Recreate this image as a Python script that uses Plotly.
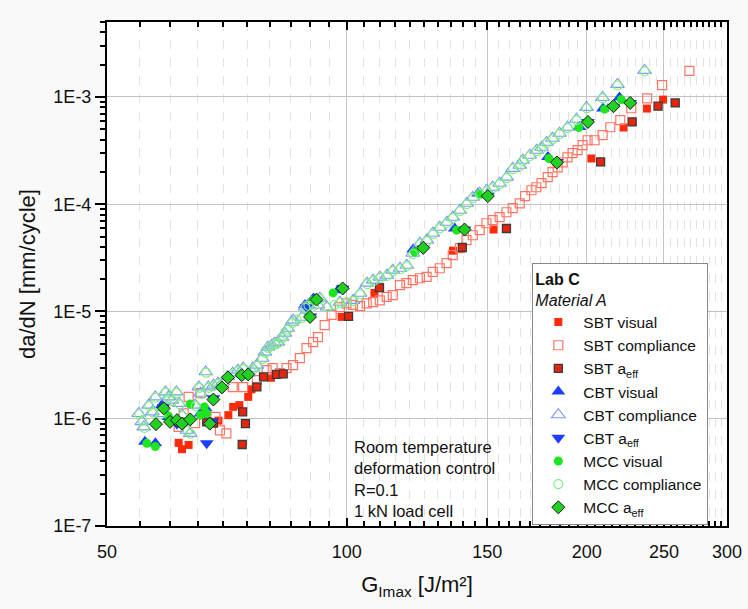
import plotly.graph_objects as go
import math

# ---------------- data ----------------
sbt_vis_x = [61.5, 62.1, 63.3, 67.3, 69.0, 71.0, 72.0, 73.3, 75.2, 75.9, 80.3, 98.5, 108.3, 135.9, 152.8, 202.7, 222.5, 238.0, 249.4]
sbt_vis_y = [5.96e-7, 5.2e-7, 5.7e-7, 9.35e-7, 9.6e-7, 1.08e-6, 1.29e-6, 1.34e-6, 1.60e-6, 1.88e-6, 2.41e-6, 8.9e-6, 1.49e-5, 3.69e-5, 5.81e-5, 2.67e-4, 5.19e-4, 7.8e-4, 9.45e-4]

sbt_comp_x = [61.5, 62.4, 63.3, 64.5, 65.5, 66.1, 68.4, 69.3, 70.6, 71.9, 74.1, 77.1, 79.3, 80.7, 82.4, 84.0, 85.6, 87.3,
              89.0, 90.7, 92.0, 93.8, 95.7, 98.0, 99.9, 101.8, 103.9, 105.9, 107.9, 110.0, 112.2, 114.2, 116.6, 118.8,
              121.0, 123.5, 125.9, 128.2, 130.8, 133.4, 135.8, 138.6, 141.3, 143.9, 146.8, 149.7, 152.4, 155.5, 158.6,
              161.5, 164.8, 167.4, 170.5, 172.9, 175.5, 178.7, 181.2, 183.9, 186.6, 189.2, 192.0, 194.8, 197.6, 200.5,
              204.6, 209.4, 214.1, 220.4, 227.5, 238.2, 248.7, 269.1]
sbt_comp_y = [8.4e-7, 1.12e-6, 1.60e-6, 9.1e-7, 1.73e-6, 1.15e-6, 1.04e-6, 7.8e-7, 7.3e-7, 1.97e-6, 1.97e-6, 2.29e-6,
              2.84e-6, 2.96e-6, 2.66e-6, 2.96e-6, 3.16e-6, 3.67e-6, 4.55e-6, 5.18e-6, 5.76e-6, 7.45e-6, 9.3e-6,
              1.10e-5, 1.19e-5, 1.15e-5, 1.12e-5, 1.19e-5, 1.22e-5, 1.27e-5, 1.37e-5, 1.42e-5, 1.76e-5, 1.84e-5,
              1.96e-5, 2.04e-5, 2.10e-5, 2.34e-5, 2.53e-5, 2.82e-5, 3.35e-5, 3.89e-5, 4.62e-5, 5.14e-5, 5.73e-5,
              6.65e-5, 7.1e-5, 7.57e-5, 8.42e-5, 9.18e-5, 1.02e-4, 1.19e-4, 1.35e-4, 1.44e-4, 1.57e-4, 1.79e-4,
              1.99e-4, 2.21e-4, 2.46e-4, 2.74e-4, 2.99e-4, 3.19e-4, 3.55e-4, 3.95e-4, 3.95e-4, 4.40e-4, 5.22e-4,
              6.07e-4, 7.85e-4, 9.7e-4, 1.29e-3, 1.75e-3]

sbt_aeff_x = [66.7, 68.0, 74.0, 74.6, 73.9, 77.1, 78.6, 81.6, 83.2, 100.5, 109.9, 139.6, 158.6, 208.2, 228.1, 245.8, 258.3]
sbt_aeff_y = [9.35e-7, 9.1e-7, 1.16e-6, 9.0e-7, 5.75e-7, 1.98e-6, 2.46e-6, 2.59e-6, 2.62e-6, 9.0e-6, 1.67e-5, 3.95e-5,
              5.94e-5, 2.48e-4, 5.85e-4, 8.2e-4, 8.8e-4]

cbt_vis_x = [55.8, 57.5, 58.6, 59.7, 65.5, 66.5, 88.6, 90.8, 97.5, 121.1, 136.6, 146.1, 178.8, 195.9, 209.6, 219.9]
cbt_vis_y = [6.1e-7, 5.9e-7, 1.34e-6, 1.04e-6, 1.12e-6, 1.25e-6, 1.15e-5, 1.32e-5, 1.58e-5, 3.78e-5, 5.94e-5, 1.26e-4,
             2.76e-4, 5.25e-4, 7.8e-4, 9.9e-4]

cbt_comp_x = [54.8, 55.3, 55.6, 56.4, 57.0, 57.5, 58.3, 59.2, 59.7, 60.3, 61.1, 61.6, 62.1, 63.0, 63.6, 64.5, 65.2, 65.5,
              66.5, 67.0, 68.0, 68.9, 69.9, 70.9, 71.9, 73.0, 74.1, 75.2, 76.2, 77.1, 78.3, 78.9, 79.6, 80.5, 81.2,
              81.9, 82.9, 83.6, 84.3, 85.3, 85.6, 87.8, 88.6, 89.4, 92.0, 92.5, 94.4, 98.0, 101.8, 103.9, 106.0,
              107.9, 110.0, 112.3, 114.2, 116.6, 118.9, 121.0, 123.5, 126.0, 128.2, 130.8, 133.5, 135.8, 138.6,
              141.4, 143.9, 146.8, 149.8, 152.4, 155.5, 158.7, 161.5, 164.8, 166.2, 169.6, 173.1, 175.6, 178.1,
              181.2, 184.9, 189.2, 194.2, 199.9, 209.4, 218.6, 236.4]
cbt_comp_y = [1.12e-6, 9.4e-7, 8.4e-7, 1.34e-6, 1.16e-6, 1.60e-6, 1.12e-6, 1.78e-6, 1.60e-6, 1.49e-6, 1.78e-6, 1.39e-6,
              1.08e-6, 7.8e-7, 7.3e-7, 1.34e-6, 1.98e-6, 1.73e-6, 2.74e-6, 1.98e-6, 2.06e-6, 2.15e-6, 2.21e-6,
              2.46e-6, 2.66e-6, 2.84e-6, 2.96e-6, 2.66e-6, 2.96e-6, 3.16e-6, 3.67e-6, 4.18e-6, 4.65e-6, 4.86e-6,
              5.07e-6, 5.18e-6, 5.76e-6, 6.28e-6, 6.98e-6, 7.94e-6, 8.3e-6, 8.85e-6, 1.10e-5, 1.15e-5, 1.15e-5,
              1.33e-5, 1.10e-5, 1.22e-5, 1.27e-5, 1.48e-5, 1.84e-5, 1.96e-5, 2.09e-5, 2.18e-5, 2.43e-5, 2.53e-5,
              2.70e-5, 3.49e-5, 4.33e-5, 4.62e-5, 5.37e-5, 6.11e-5, 6.79e-5, 7.57e-5, 8.79e-5, 1.02e-4, 1.16e-4,
              1.27e-4, 1.35e-4, 1.44e-4, 1.57e-4, 1.79e-4, 2.16e-4, 2.31e-4, 2.57e-4, 2.86e-4, 3.19e-4, 3.40e-4,
              3.78e-4, 4.12e-4, 4.59e-4, 5.22e-4, 6.2e-4, 8.0e-4, 9.9e-4, 1.31e-3, 1.77e-3]

cbt_aeff_x = [58.9, 66.7, 67.7, 68.0, 61.2, 89.0, 90.0, 98.8, 124.7, 140.5, 150.3, 183.5, 200.7, 216.1, 226.8]
cbt_aeff_y = [1.29e-6, 5.9e-7, 9.35e-7, 1.55e-6, 9.0e-7, 1.10e-5, 9.0e-6, 1.64e-5, 3.86e-5, 5.81e-5, 1.19e-4, 2.48e-4,
              5.85e-4, 8.1e-4, 8.8e-4]

mcc_vis_x = [56.1, 57.5, 59.7, 61.5, 65.5, 66.2, 66.7, 63.6, 96.1, 90.7, 121.7, 137.3, 146.8, 179.3, 195.5, 210.6, 221.0]
mcc_vis_y = [5.9e-7, 5.5e-7, 1.06e-6, 9.35e-7, 1.08e-6, 1.29e-6, 1.12e-6, 1.37e-6, 1.49e-5, 1.27e-5, 3.59e-5, 5.73e-5,
             1.24e-4, 2.67e-4, 5.19e-4, 7.7e-4, 9.45e-4]

mcc_comp_x = [54.9, 55.4, 55.7, 56.5, 57.1, 57.6, 58.4, 59.3, 59.8, 60.4, 61.2, 61.7, 62.2, 63.1, 63.7, 64.6, 65.3, 65.6,
              66.6, 67.1, 68.1, 69.0, 70.0, 71.0, 72.0, 73.1, 74.2, 75.3, 76.3, 77.2, 78.4, 79.0, 79.7, 80.6, 81.3,
              82.0, 83.0, 83.7, 84.4, 85.4, 86.5, 87.9, 88.7, 89.5, 91.0, 92.6, 94.5, 96.5, 98.1, 100.0, 101.9,
              104.0, 106.1, 108.0, 110.1, 112.4, 114.3, 116.7, 119.0, 121.1, 123.6, 126.1, 128.3, 130.9, 133.6,
              135.9, 138.7, 141.5, 144.0, 146.9, 149.9, 152.5, 155.6, 158.8, 161.6, 164.9, 166.3, 169.7, 173.2,
              175.7, 178.2, 181.3, 185.0, 189.3, 194.3, 200.0, 209.5, 218.7, 236.5]
mcc_comp_y = [1.10e-6, 9.6e-7, 8.2e-7, 1.31e-6, 1.14e-6, 1.57e-6, 1.10e-6, 1.75e-6, 1.57e-6, 1.46e-6, 1.74e-6, 1.36e-6,
              1.06e-6, 7.7e-7, 7.2e-7, 1.31e-6, 1.94e-6, 1.70e-6, 2.68e-6, 1.94e-6, 2.02e-6, 2.11e-6, 2.17e-6,
              2.41e-6, 2.61e-6, 2.78e-6, 2.90e-6, 2.61e-6, 2.90e-6, 3.10e-6, 3.60e-6, 4.10e-6, 4.56e-6, 4.76e-6,
              4.97e-6, 5.08e-6, 5.65e-6, 6.16e-6, 6.84e-6, 7.78e-6, 8.4e-6, 8.7e-6, 1.08e-5, 1.13e-5, 1.13e-5,
              1.30e-5, 1.09e-5, 1.15e-5, 1.20e-5, 1.22e-5, 1.25e-5, 1.45e-5, 1.80e-5, 1.92e-5, 2.05e-5, 2.14e-5,
              2.38e-5, 2.48e-5, 2.65e-5, 3.42e-5, 4.24e-5, 4.53e-5, 5.26e-5, 5.99e-5, 6.65e-5, 7.42e-5, 8.61e-5,
              1.00e-4, 1.14e-4, 1.24e-4, 1.32e-4, 1.41e-4, 1.54e-4, 1.75e-4, 2.12e-4, 2.26e-4, 2.52e-4, 2.80e-4,
              3.13e-4, 3.33e-4, 3.70e-4, 4.04e-4, 4.50e-4, 5.12e-4, 6.08e-4, 7.84e-4, 9.7e-4, 1.28e-3, 1.73e-3]

mcc_aeff_x = [57.6, 58.9, 60.0, 61.2, 62.1, 63.6, 67.3, 68.0, 69.7, 70.9, 73.8, 75.2, 89.9, 91.6, 98.8, 124.7, 140.5,
              150.3, 183.5, 200.7, 216.1, 226.8]
mcc_aeff_y = [8.9e-7, 1.25e-6, 9.35e-7, 9.7e-7, 9.0e-7, 9.85e-7, 9.0e-7, 1.51e-6, 1.96e-6, 2.43e-6, 2.55e-6, 2.59e-6,
              8.9e-6, 1.29e-5, 1.64e-5, 3.92e-5, 5.81e-5, 1.19e-4, 2.45e-4, 5.85e-4, 8.2e-4, 8.8e-4]

x_tickvals = [50, 100, 150, 200, 250, 300]
x_ticktext = ["50", "100", "150", "200", "250", "300"]
y_tickvals = [1e-7, 1e-6, 1e-5, 1e-4, 1e-3]
y_ticktext = ["1E-7", "1E-6", "1E-5", "1E-4", "1E-3"]
note_lines = ["Room temperature", "deformation control", "R=0.1", "1 kN load cell"]

# ---------------- figure ----------------
FONT = "Liberation Sans, Arial, sans-serif"
fig = go.Figure()

def add(x, y, name, group, symbol, size, color, lcolor=None, lwidth=0):
    fig.add_trace(go.Scatter(
        x=x, y=y, mode="markers", name=name, legendgroup=group,
        marker=dict(symbol=symbol, size=size, color=color,
                    line=dict(color=lcolor if lcolor else color, width=lwidth)),
    ))

add(sbt_vis_x, sbt_vis_y, "SBT visual", "SBT", "square", 8, "#ff2a0a")
add(sbt_comp_x, sbt_comp_y, "SBT compliance", "SBT", "square-open", 9, "#ff7565", lwidth=1.2)
add(sbt_aeff_x, sbt_aeff_y, "SBT a<sub>eff</sub>", "SBT", "square", 8, "#e8250c", "#3a3a3a", 1.3)
add(cbt_vis_x, cbt_vis_y, "CBT visual", "CBT", "triangle-up", 12, "#1e3cff")
add(cbt_comp_x, cbt_comp_y, "CBT compliance", "CBT", "triangle-up-open", 12, "#7f98ff", lwidth=1.1)
add(cbt_aeff_x, cbt_aeff_y, "CBT a<sub>eff</sub>", "CBT", "triangle-down", 12, "#1e3cff")
add(mcc_vis_x, mcc_vis_y, "MCC visual", "MCC", "circle", 9, "#1ee61e")
add(mcc_comp_x, mcc_comp_y, "MCC compliance", "MCC", "circle-open", 9, "#7ff07f", lwidth=1.1)
add(mcc_aeff_x, mcc_aeff_y, "MCC a<sub>eff</sub>", "MCC", "diamond", 10, "#22d022", "#1a1a1a", 1)

minor_x = [v for v in range(55, 300, 5) if v not in x_tickvals]
YR = [-7, math.log10(5e-3)]

fig.update_layout(
    width=748, height=609,
    margin=dict(l=107, r=21, t=22, b=83, autoexpand=False),
    paper_bgcolor="#f9f9f9", plot_bgcolor="#ffffff",
    font=dict(family=FONT, size=16, color="#111"),
    showlegend=True,
    legend=dict(
        x=0.686, y=0.522, xanchor="left", yanchor="top",
        bgcolor="#ffffff", bordercolor="#888888", borderwidth=1,
        font=dict(family=FONT, size=15.5, color="#111"),
        title=dict(text="<b>Lab C</b><br><i>Material A</i>", font=dict(family=FONT, size=16, color="#111")),
        tracegroupgap=0, itemwidth=40,
    ),
    xaxis=dict(
        type="log", range=[math.log10(50), math.log10(300)], automargin=False,
        tickvals=x_tickvals, ticktext=x_ticktext,
        ticks="inside", ticklen=8, tickwidth=1.5, tickcolor="#000",
        showline=True, linecolor="#000", linewidth=2, mirror="allticks",
        showgrid=True, gridcolor="#c4c4c4", gridwidth=1,
        minor=dict(tickvals=minor_x, ticks="inside", ticklen=5, tickcolor="#000",
                   showgrid=True, gridcolor="#e2e2e2", griddash="dash", gridwidth=1),
        tickfont=dict(size=18, family=FONT, color="#111"),
        ticklabelstandoff=8,
        title=dict(text="G<sub>Imax</sub> [J/m²]", font=dict(size=22, family=FONT, color="#111"), standoff=16),
        zeroline=False,
    ),
    yaxis=dict(
        type="log", range=YR, automargin=False,
        tickvals=y_tickvals, ticktext=y_ticktext,
        ticks="outside", ticklen=10, tickwidth=1.5, tickcolor="#000",
        showline=True, linecolor="#000", linewidth=2, mirror=True,
        showgrid=True, gridcolor="#c4c4c4", gridwidth=1,
        minor=dict(dtick="D1", ticks="outside", ticklen=5, tickcolor="#000", showgrid=False),
        tickfont=dict(size=18, family=FONT, color="#111"),
        title=dict(text="da/dN [mm/cycle]", font=dict(size=22, family=FONT, color="#111"), standoff=12),
        zeroline=False,
    ),
    yaxis2=dict(
        type="log", range=YR, overlaying="y", side="right", automargin=False,
        tickvals=y_tickvals, showticklabels=False,
        ticks="inside", ticklen=10, tickwidth=1.5, tickcolor="#000",
        minor=dict(dtick="D1", ticks="inside", ticklen=5, tickcolor="#000", showgrid=False),
        showgrid=False, showline=False, zeroline=False,
    ),
)

fig.add_annotation(
    x=0.3955, y=0.178, xref="paper", yref="paper", xanchor="left", yanchor="top",
    text="<br>".join(note_lines), showarrow=False, align="left",
    font=dict(family=FONT, size=16.5, color="#111"),
)

fig.write_html("out.html", config={"displayModeBar": False},
               post_script="document.body.style.margin='0px';")
